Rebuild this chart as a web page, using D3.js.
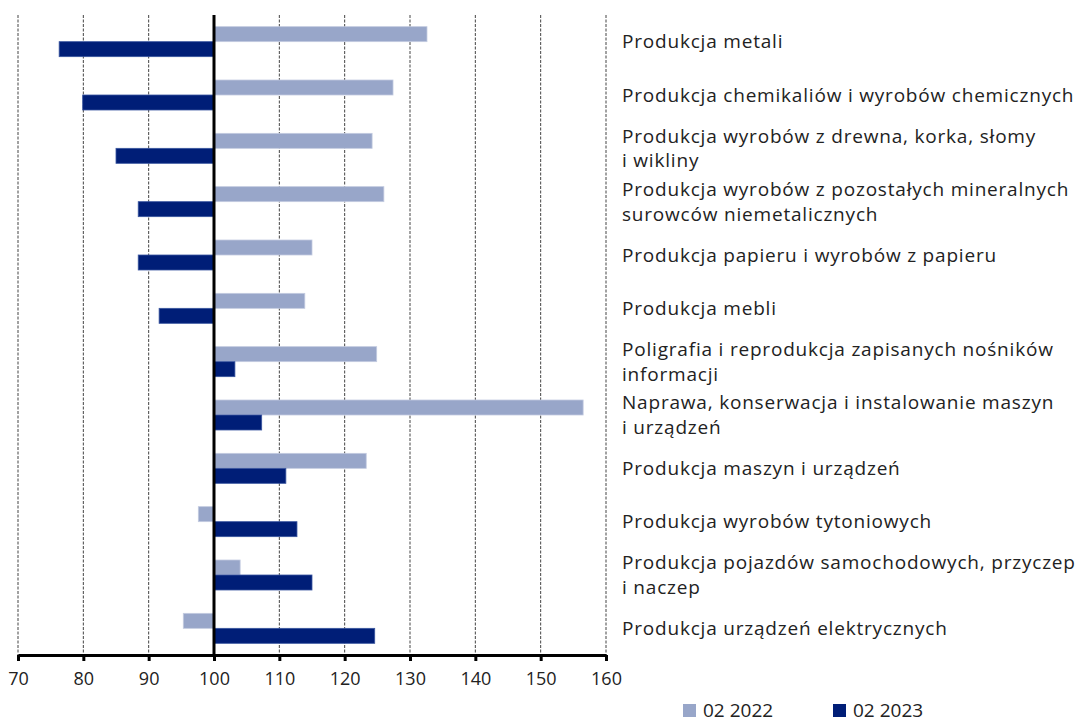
<!DOCTYPE html>
<html>
<head>
<meta charset="utf-8">
<script src="https://cdn.jsdelivr.net/npm/d3@7"></script>
<style>
  body { margin: 0; background: #fff; }
  svg { display: block; font-family: "Open Sans", "Noto Sans", sans-serif; }
</style>
</head>
<body>
<svg id="chart" width="1083" height="722"></svg>
<script>
const categories = [
    ["Produkcja metali"],
    ["Produkcja chemikaliów i wyrobów chemicznych"],
    ["Produkcja wyrobów z drewna, korka, słomy", "i wikliny"],
    ["Produkcja wyrobów z pozostałych mineralnych", "surowców niemetalicznych"],
    ["Produkcja papieru i wyrobów z papieru"],
    ["Produkcja mebli"],
    ["Poligrafia i reprodukcja zapisanych nośników", "informacji"],
    ["Naprawa, konserwacja i instalowanie maszyn", "i urządzeń"],
    ["Produkcja maszyn i urządzeń"],
    ["Produkcja wyrobów tytoniowych"],
    ["Produkcja pojazdów samochodowych, przyczep", "i naczep"],
    ["Produkcja urządzeń elektrycznych"]
];
const series = ["02 2022", "02 2023"];
const values2022 = [132.6, 127.4, 124.2, 126.0, 115.0, 113.9, 124.9, 156.5, 123.3, 97.6, 104.0, 95.3];
const values2023 = [76.3, 79.9, 85.0, 88.4, 88.4, 91.6, 103.2, 107.3, 111.0, 112.7, 115.0, 124.6];
const xTicks = [70, 80, 90, 100, 110, 120, 130, 140, 150, 160];
const colors = ["#98a6c9", "#001e77"];

const svg = d3.select("#chart");
const mLeft = 18, mRight = 606, mTop = 15, mBottom = 655;

const x = d3.scaleLinear().domain([70, 160]).range([mLeft, mRight]);
const idx = d3.range(categories.length);
const y = d3.scaleBand().domain(idx).range([mTop, mBottom]).paddingInner(0.4375).paddingOuter(0.21875);
const ySub = d3.scaleBand().domain([0, 1]).range([0, y.bandwidth()]);

// gridlines
svg.append("g")
    .selectAll("line")
    .data(xTicks.filter(d => d !== 100))
    .enter().append("line")
    .attr("x1", d => x(d)).attr("x2", d => x(d))
    .attr("y1", mTop).attr("y2", mBottom)
    .attr("stroke", "#444")
    .attr("stroke-width", 1)
    .attr("stroke-dasharray", "3,1.5");

// bars
const data = [];
idx.forEach(i => {
    data.push({ i, s: 0, v: values2022[i] });
    data.push({ i, s: 1, v: values2023[i] });
});
svg.append("g")
    .selectAll("rect")
    .data(data)
    .enter().append("rect")
    .attr("x", d => x(Math.min(100, d.v)))
    .attr("width", d => Math.abs(x(d.v) - x(100)))
    .attr("y", d => y(d.i) + ySub(d.s))
    .attr("height", ySub.bandwidth())
    .attr("fill", d => colors[d.s])
    .attr("stroke", d => d.s === 0 ? "#c3cbe0" : "#3a56a0")
    .attr("stroke-width", 0.8);

// zero line
svg.append("line")
    .attr("x1", x(100)).attr("x2", x(100))
    .attr("y1", mTop).attr("y2", mBottom)
    .attr("stroke", "#000").attr("stroke-width", 3);

// x axis
const axis = svg.append("g")
    .attr("transform", "translate(0," + mBottom + ")")
    .call(d3.axisBottom(x).tickValues(xTicks).tickSize(6).tickSizeOuter(0).tickPadding(11));
axis.select(".domain").attr("stroke", "#000").attr("stroke-width", 3);
axis.selectAll(".tick line").attr("stroke", "#000").attr("stroke-width", 3);
axis.selectAll(".tick text")
    .attr("font-size", 18)
    .attr("fill", "#222")
    .style("font-family", "'Open Sans', sans-serif");

// category labels
const labels = svg.append("g");
idx.forEach(i => {
    const lines = categories[i];
    const cy = y(i) + y.bandwidth() / 2;
    const lh = 24.5;
    lines.forEach((t, k) => {
        labels.append("text")
            .attr("x", 622)
            .attr("y", cy + (k - (lines.length - 1) / 2) * lh)
            .attr("dy", "0.35em")
            .attr("font-size", 19)
            .attr("letter-spacing", 0.8)
            .attr("fill", "#222")
            .text(t);
    });
});

// legend
const legend = svg.append("g");
const lx = [683, 833];
series.forEach((s, k) => {
    legend.append("rect")
        .attr("x", lx[k]).attr("y", 704)
        .attr("width", 13).attr("height", 13)
        .attr("fill", colors[k]);
    legend.append("text")
        .attr("x", lx[k] + 20).attr("y", 710)
        .attr("dy", "0.35em")
        .attr("font-size", 19)
        .attr("fill", "#222")
        .text(s);
});
</script>
</body>
</html>
